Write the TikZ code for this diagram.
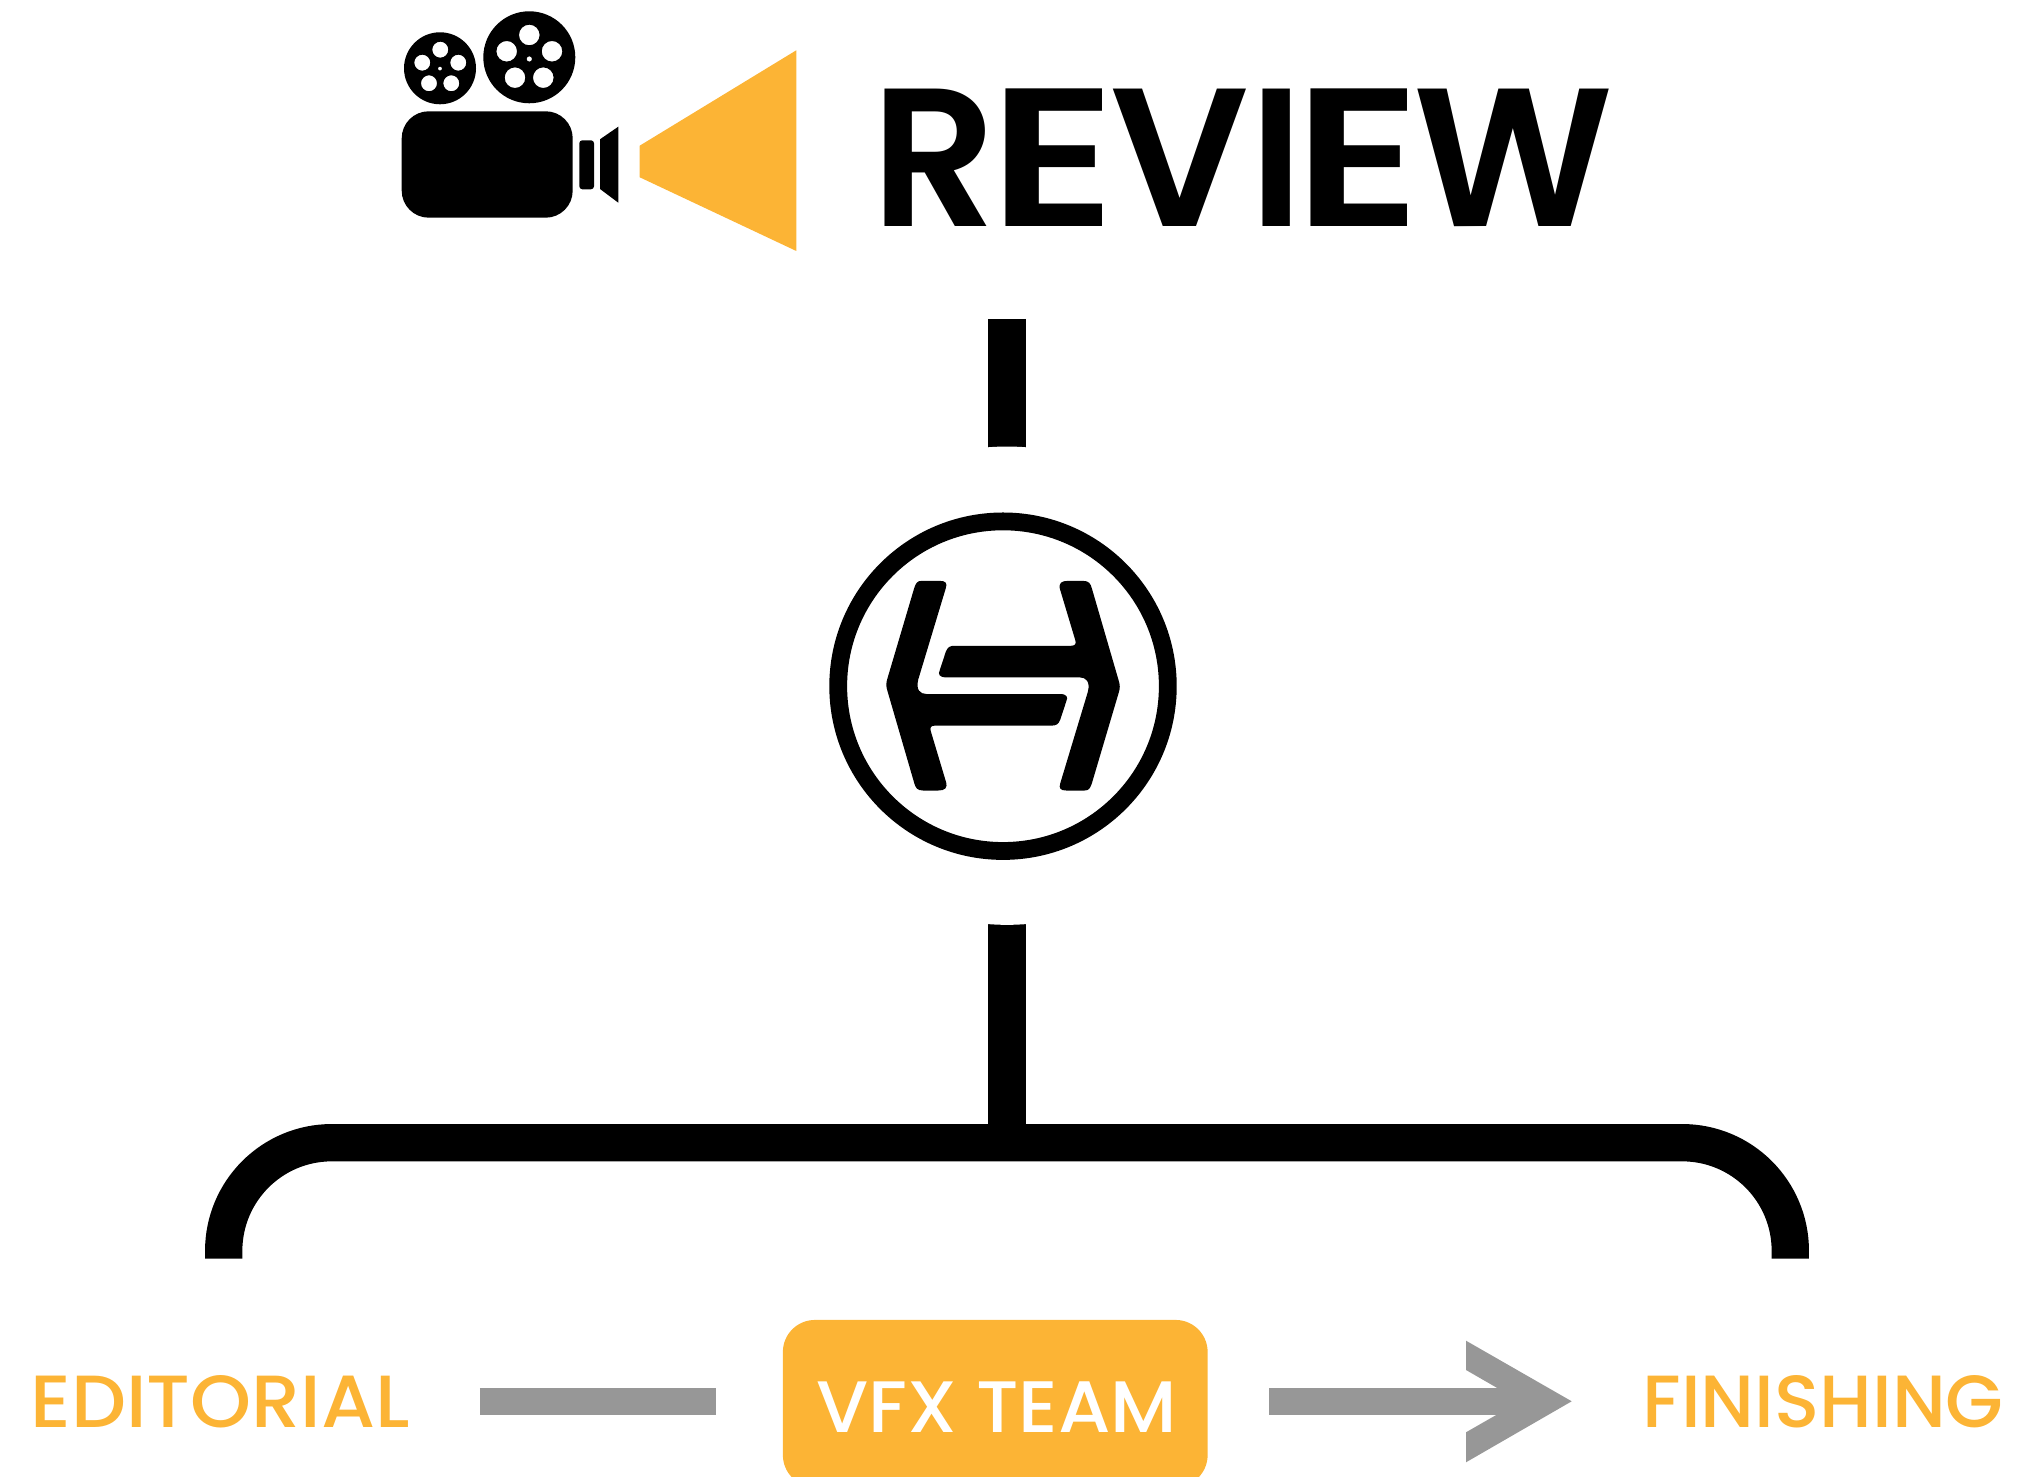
\documentclass[tikz,border=0pt]{standalone}
\usepackage{fontspec}
\usepackage{graphicx}
\setmainfont{Poppins Medium}[BoldFont={Poppins SemiBold}]
\definecolor{vfxorange}{HTML}{FCB435}
\definecolor{flowgrey}{HTML}{979797}
\newcommand{\wideE}{\scalebox{1.22}[1]{E}}
\tikzset{
  blackbar/.style={draw=black,line width=0.373cm},
  greybar/.style={draw=flowgrey,line width=0.273cm},
  title/.style={anchor=south west,inner sep=0pt,outer sep=0pt,text=black},
  label/.style={anchor=south west,inner sep=0pt,outer sep=0pt,text=vfxorange},
  halo/.style={circle,fill=white,inner sep=0pt,minimum size=4.78cm},
  ring/.style={circle,draw=black,line width=0.178cm,inner sep=0pt,minimum size=3.294cm},
  vfxbox/.style={fill=vfxorange,rounded corners=0.32cm,inner sep=0pt,minimum width=4.245cm,minimum height=1.67cm},
}
\begin{document}
\begin{tikzpicture}[x=0.01cm,y=-0.01cm]
\useasboundingbox (0,0) rectangle (2018,1477);
\clip (0,0) rectangle (2018,1477);
% camera reels
\fill[black,even odd rule]
  (440,68.3) circle[radius=36]
  (440.3,49.7) circle[radius=8]
  (458.3,62.7) circle[radius=8]
  (451.3,83.3) circle[radius=8]
  (429,83.3) circle[radius=8]
  (422.3,62.7) circle[radius=8]
  (440,68.6) circle[radius=2];
\fill[black,even odd rule]
  (529.3,57.3) circle[radius=46]
  (529.3,35) circle[radius=10.3]
  (552,51.3) circle[radius=10.3]
  (543.3,77.7) circle[radius=10.3]
  (515,77.7) circle[radius=10.3]
  (506.7,51.3) circle[radius=10.3]
  (529.3,59) circle[radius=2.7];
% camera body
\fill[black,rounded corners=0.27cm] (401.7,111.3) rectangle (572.7,217.7);
\fill[black,rounded corners=0.03cm] (579.3,140.3) rectangle (594,189.3);
\fill[black] (600,139.3) -- (618.3,126.7) -- (618.3,202.7) -- (600,189) -- cycle;
% light beam
\fill[vfxorange] (639.7,145.7) -- (796.3,50.3) -- (796.3,251) -- (639.7,177.3) -- cycle;
% title
\node[title] (review) at (871.5,226.7) {\resizebox*{7.42cm}{1.377cm}{\bfseries R\kern-0.0365em\wideE\kern-0.03emVI\kern-0.045em\wideE\kern-0.04emW}};
% connectors
\coordinate (revbar) at (1007,319);
\coordinate (haloC) at (1007,685.7);
\coordinate (logoC) at (1003,686.2);
\coordinate (braceJoin) at (1007,1142.7);
\draw[blackbar] (revbar) -- (haloC);
\draw[blackbar] (haloC) -- (braceJoin);
\node[halo] (gap) at (haloC) {};
\coordinate (braceL) at (223.7,1258.7);
\coordinate (braceTL) at (223.7,1142.7);
\coordinate (braceTR) at (1790.3,1142.7);
\coordinate (braceR) at (1790.3,1258.7);
\draw[blackbar,rounded corners=1.08cm] (braceL) -- (braceTL) -- (braceTR) -- (braceR);
% logo
\node[ring] (logo) at (logoC) {};
\begin{scope}[shift={(820,500)},x=0.003333cm,y=-0.003333cm]
  \def\logohalf{(305,243) -- (360,243) .. controls (378,243) and (383,250) .. (378,265)
    -- (295,540) .. controls (288,570) and (300,583) .. (320,583)
    -- (720,583) .. controls (742,583) and (746,592) .. (740,605)
    -- (722,660) .. controls (716,674) and (710,678) .. (695,678)
    -- (345,678) .. controls (332,678) and (330,685) .. (333,695)
    -- (378,845) .. controls (385,866) and (375,873) .. (355,873)
    -- (310,873) .. controls (292,873) and (287,865) .. (283,850)
    -- (203,575) .. controls (198,560) and (198,550) .. (203,535)
    -- (283,265) .. controls (288,250) and (292,243) .. (305,243) -- cycle}
  \fill[black] \logohalf;
  \fill[black,rotate around={180:(550,558)}] \logohalf;
\end{scope}
% bottom row
\node[label] (editorial) at (30.5,1427.8) {\resizebox*{3.79cm}{0.525cm}{EDITORIAL}};
\coordinate (barL) at (479.9,1401.3);
\coordinate (barR) at (716,1401.3);
\draw[greybar] (barL) -- (barR);
\node[vfxbox] (vfx) at (995.25,1403.5) {};
\node[anchor=south west,inner sep=0pt,outer sep=0pt,text=white] (vfxlabel) at (816,1432) {\resizebox*{3.61cm}{0.507cm}{VFX TEAM}};
\coordinate (arrL) at (1269.3,1401.3);
\coordinate (arrR) at (1500,1401.3);
\draw[greybar] (arrL) -- (arrR);
\fill[flowgrey] (1466,1340.7) -- (1571.7,1401.3) -- (1466,1462.3) -- (1466,1432.3) -- (1496.7,1414.7) -- (1496.7,1387.7) -- (1466,1370) -- cycle;
\node[label] (finishing) at (1642.5,1427.8) {\resizebox*{3.61cm}{0.525cm}{FINISHING}};
\end{tikzpicture}
\end{document}
